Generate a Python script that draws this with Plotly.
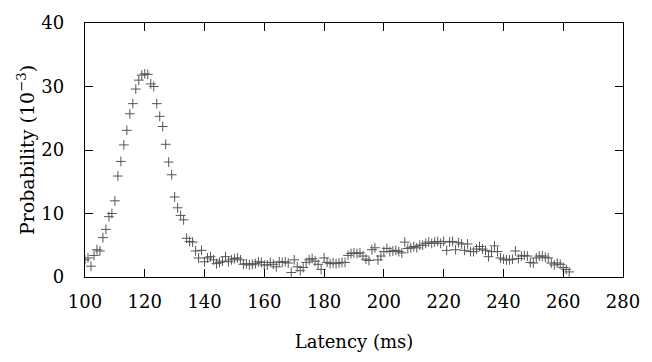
import plotly.graph_objects as go

latency_ms = list(range(100, 263))
probability_e3 = [
    2.7, 3.0, 1.7, 3.4, 4.3, 4.1, 6.2, 7.5, 9.5, 10.0,
    12.0, 15.9, 18.2, 20.8, 23.1, 25.7, 27.3, 29.6, 31.0, 31.8,
    32.0, 31.9, 30.4, 30.0, 27.3, 25.3, 23.7, 20.9, 18.1, 16.1,
    12.6, 10.9, 9.7, 9.0, 6.1, 5.6, 5.5, 4.1, 3.0, 4.2,
    2.4, 3.0, 3.2, 2.7, 2.1, 2.3, 2.5, 3.2, 2.4, 2.7,
    2.9, 3.0, 2.7, 2.0, 2.1, 1.9, 2.0, 2.1, 2.4, 2.3,
    1.9, 1.9, 2.3, 2.0, 1.6, 2.4, 2.3, 2.4, 2.2, 0.7,
    2.7, 1.6, 1.0, 1.5, 2.3, 2.7, 2.9, 2.5, 2.0, 1.2,
    3.0, 2.3, 2.1, 2.2, 2.1, 2.2, 2.3, 2.3, 3.4, 3.7,
    3.8, 3.7, 3.8, 3.3, 2.8, 2.6, 4.3, 4.6, 2.7, 3.3,
    4.0, 4.5, 4.0, 4.1, 4.2, 4.0, 3.8, 5.5, 4.5, 4.6,
    4.8, 4.6, 5.0, 5.0, 5.3, 5.5, 5.3, 5.5, 5.6, 5.3,
    5.6, 4.2, 5.5, 5.6, 4.3, 5.4, 5.2, 4.2, 5.2, 4.0,
    4.0, 4.4, 4.8, 4.4, 4.2, 3.2, 4.0, 4.9, 4.0, 3.0,
    2.8, 2.7, 2.7, 2.8, 4.1, 2.9, 3.3, 3.4, 3.3, 2.3,
    2.2, 3.0, 3.3, 3.3, 3.1, 3.0, 2.2, 1.9, 2.2, 2.0,
    1.5, 1.2, 0.8,
]

x_ticks = [100, 120, 140, 160, 180, 200, 220, 240, 260, 280]
y_ticks = [0, 10, 20, 30, 40]

FONT = "DejaVu Serif, serif"

fig = go.Figure(
    go.Scatter(
        x=latency_ms,
        y=probability_e3,
        mode="markers",
        marker=dict(symbol="cross-thin", size=7,
                    line=dict(color="#555555", width=1)),
        showlegend=False,
    )
)

axis_common = dict(
    showline=True, linecolor="black", linewidth=1.3, mirror="ticks",
    ticks="inside", ticklen=8, tickwidth=1.3, tickcolor="black",
    showgrid=False, zeroline=False,
    tickfont=dict(family=FONT, size=18, color="black"),
)

fig.update_layout(
    width=652, height=362,
    margin=dict(l=85, r=24, t=22, b=85),
    paper_bgcolor="white", plot_bgcolor="white",
    font=dict(family=FONT, size=18, color="black"),
    xaxis=dict(range=[100, 280], tickvals=x_ticks, ticklabelstandoff=8,
               title=dict(text="Latency (ms)", font=dict(family=FONT, size=18, color="black"),
                          standoff=24),
               **axis_common),
    yaxis=dict(range=[0, 40], tickvals=y_ticks, ticklabelstandoff=16,
               title=dict(text="Probability (10<sup>−3</sup>)", font=dict(family=FONT, size=19, color="black"),
                          standoff=1),
               **axis_common),
)

fig.write_html("out.html")
